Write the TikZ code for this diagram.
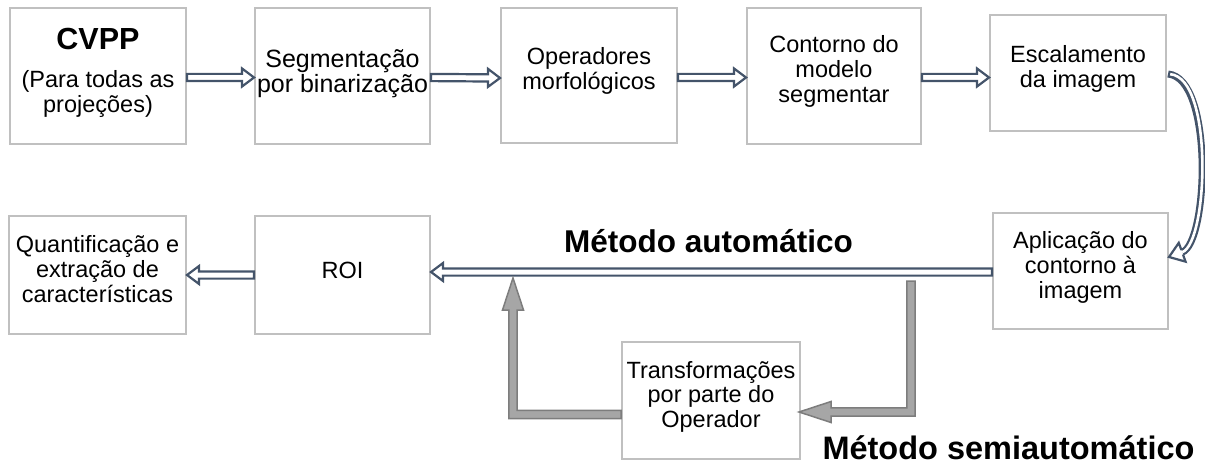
\documentclass[tikz,border=0pt]{standalone}
\usepackage{fontspec}
\setmainfont{Liberation Sans}
\usetikzlibrary{calc}

\definecolor{slate}{RGB}{68,84,106}
\definecolor{boxline}{RGB}{192,192,192}
\definecolor{grayfill}{RGB}{166,166,166}
\definecolor{grayline}{RGB}{125,125,125}

\tikzset{
  box/.style={draw=boxline, line width=2pt, fill=white, inner sep=0pt,
    font=\fontsize{23.5}{24.8}\selectfont, text height=0pt},
  blockarr/.style={draw=slate, fill=white, line width=2.2pt, line join=miter},
  grayarr/.style={draw=grayline, fill=grayfill, line width=1.5pt, line join=miter},
  methodlabel/.style={font=\fontsize{31.5}{34}\selectfont\bfseries, inner sep=0pt, anchor=base},
}

% centred lines; the box baseline is the baseline of the first line
\newcommand\stack[2][24.8pt]{\vtop{\baselineskip=#1\lineskiplimit=0pt\halign{\hfil##\hfil\cr#2\crcr}}}

% hollow block arrow from #1 to the tip #2
\newcommand\blockarrow[2]{%
  \coordinate (ba-s) at (#1);
  \coordinate (ba-t) at (#2);
  \coordinate (ba-b) at ($(ba-t)!12pt!(ba-s)$);
  \draw[blockarr]
    ($(ba-s)!3.6pt!90:(ba-t)$) -- ($(ba-b)!3.6pt!-90:(ba-s)$) --
    ($(ba-b)!9pt!-90:(ba-s)$) -- (ba-t) -- ($(ba-b)!9pt!90:(ba-s)$) --
    ($(ba-b)!3.6pt!90:(ba-s)$) -- ($(ba-s)!3.6pt!-90:(ba-t)$) -- cycle;
}

\begin{document}
\begin{tikzpicture}[x=1pt, y=-1pt]
\useasboundingbox (0,0) rectangle (1205,465);

% upper row
\node[box, minimum width=176pt, minimum height=136pt, text depth=52pt] (b1) at (98,76)
  {\stack{{\fontsize{30.5}{32}\selectfont\bfseries CVPP}\cr\noalign{\vskip13pt}(Para todas as\cr projeções)}};
\node[box, minimum width=175pt, minimum height=136pt, text depth=16pt,
      font=\fontsize{25}{25}\selectfont] (b2) at (342.5,76)
  {\stack[25pt]{Segmentação\cr por binarização}};
\node[box, minimum width=176pt, minimum height=135pt, text depth=21pt] (b3) at (589,75.5)
  {\stack{Operadores\cr morfológicos}};
\node[box, minimum width=174pt, minimum height=136pt, text depth=46pt] (b4) at (834,76)
  {\stack{Contorno do\cr modelo\cr segmentar}};
\node[box, minimum width=176pt, minimum height=116pt, text depth=20pt] (b5) at (1078,73)
  {\stack{Escalamento\cr da imagem}};

% lower row
\node[box, minimum width=175pt, minimum height=116pt, text depth=45pt] (apl) at (1080.5,271)
  {\stack{Aplicação do\cr contorno à\cr imagem}};
\node[box, minimum width=175pt, minimum height=118pt, text height=6pt, text depth=0pt] (roi) at (342.5,275)
  {ROI};
\node[box, minimum width=177pt, minimum height=118pt, text depth=44pt] (quant) at (97.5,275)
  {\stack{Quantificação e\cr extração de\cr características}};
\node[box, minimum width=178pt, minimum height=117pt, text depth=45pt] (trans) at (711,400.5)
  {\stack[24.5pt]{Transformações\cr por parte do\cr Operador}};

% method labels
\node[methodlabel] (auto) at (708.5,252) {Método automático};
\node[methodlabel, font=\fontsize{32.5}{34}\selectfont\bfseries] (semi) at (1008.5,459) {Método semiautomático};

% straight hollow arrows
\blockarrow{$(b1.east)+(0,1.5)$}{$(b1.east -| b2.west)+(0,1.5)$}
\blockarrow{$(b2.east)+(0,1.5)$}{$(b2.east -| b3.west)+(0,2)$}
\blockarrow{$(b3.east)+(0,2)$}{$(b3.east -| b4.west)+(0,2)$}
\blockarrow{$(b4.east)+(0,1.5)$}{$(b4.east -| b5.west)+(0,1.5)$}
\blockarrow{$(apl.west)+(0,1)$}{$(apl.west -| roi.east)+(0,1)$}
\blockarrow{roi.west}{roi.west -| quant.east}

% curved hollow arrow from the scaling step down to the contour step
\coordinate (cs) at ($(b5.east)+(1,1)$);
\coordinate (ctip) at ($(apl.east)+(0,-14)$);
\coordinate (cb) at ($(ctip)+(13.16,-4.76)$);
\draw[slate, line width=7pt] (cs) .. controls +(46,4) and ($(cb)+(26,-9.5)$) .. (cb);
\draw[white, line width=2.6pt, shorten <=2.2pt] (cs) .. controls +(46,4) and ($(cb)+(26,-9.5)$) .. (cb);
\filldraw[fill=white, draw=slate, line width=2.2pt, line join=miter]
  ($(ctip)+(13.98,-2.5)$) -- ($(ctip)+(16.56,4.64)$) -- (ctip) --
  ($(ctip)+(9.76,-14.16)$) -- ($(ctip)+(12.34,-7.02)$);

% semi-automatic loop through the operator
\coordinate (sA) at ($(apl.west)+(-81,10)$);
\coordinate (sB) at ($(trans.east)+(-2,11.5)$);
\coordinate (sC) at (sA |- sB);
\draw[grayarr]
  ($(sA)+(-4.2,0)$) -- ($(sA)+(4.2,0)$) -- ($(sC)+(4.2,4.2)$) --
  ($(sB)+(32,4.2)$) -- ($(sB)+(32,10.5)$) -- (sB) -- ($(sB)+(32,-10.5)$) --
  ($(sB)+(32,-4.2)$) -- ($(sC)+(-4.2,-4.2)$) -- cycle;

\coordinate (uA) at ($(trans.west)+(0,14)$);
\coordinate (uT) at ($(roi.east)+(82,3)$);
\coordinate (uC) at (uT |- uA);
\draw[grayarr]
  ($(uA)+(0,-4.2)$) -- ($(uC)+(4.2,-4.2)$) -- ($(uT)+(4.2,32)$) --
  ($(uT)+(10.5,32)$) -- (uT) -- ($(uT)+(-10.5,32)$) -- ($(uT)+(-4.2,32)$) --
  ($(uC)+(-4.2,4.2)$) -- ($(uA)+(0,4.2)$) -- cycle;
\end{tikzpicture}
\end{document}
